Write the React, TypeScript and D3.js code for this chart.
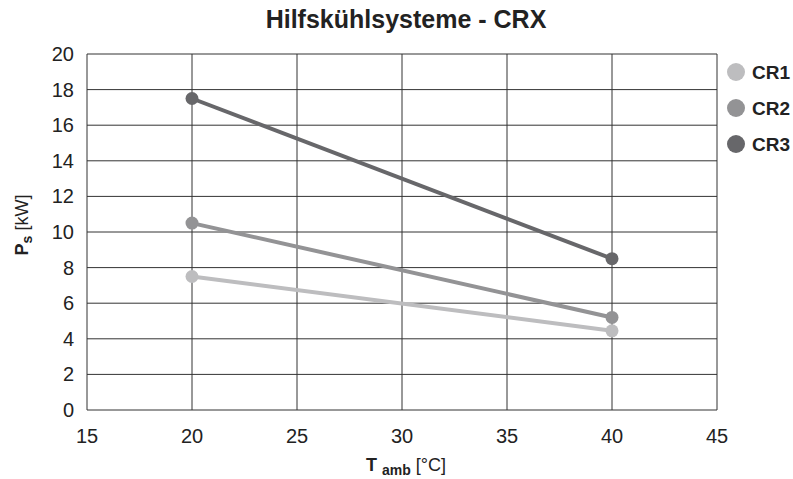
import * as d3 from 'd3';

const temps = [20, 40];
const seriesNames = ['CR1', 'CR2', 'CR3'];
const cr1 = [7.5, 4.45];
const cr2 = [10.5, 5.2];
const cr3 = [17.5, 8.5];
const seriesColors = ['#bdbdbf', '#939395', '#67676a'];
const xTicks = [15, 20, 25, 30, 35, 40, 45];
const yTicks = [0, 2, 4, 6, 8, 10, 12, 14, 16, 18, 20];

const W = 793;
const H = 479;
const font = 'Liberation Sans, Arial, sans-serif';

export default function App() {
  const x = d3.scaleLinear().domain([15, 45]).range([87, 717]);
  const y = d3.scaleLinear().domain([0, 20]).range([410, 54]);
  const all = [cr1, cr2, cr3];
  const line = d3.line<number>()
    .x((_, i) => x(temps[i]))
    .y(d => y(d));

  return (
    <svg width={W} height={H} style={{ position: 'absolute', left: 0, top: 0, fontFamily: font }}>
      <rect width={W} height={H} fill="#fff" />
      <text x={406} y={28} textAnchor="middle" fontSize={25} fontWeight="bold" fill="#222">
        Hilfskühlsysteme - CRX
      </text>
      {/* grid */}
      {yTicks.map(t => (
        <line key={'gy' + t} x1={x(15)} x2={x(45)} y1={y(t)} y2={y(t)} stroke="#333" strokeWidth={1} />
      ))}
      {xTicks.map(t => (
        <line key={'gx' + t} x1={x(t)} x2={x(t)} y1={y(0)} y2={y(20)} stroke="#333" strokeWidth={1} />
      ))}
      {yTicks.map(t => (
        <text key={'ty' + t} x={74} y={y(t) + 7} textAnchor="end" fontSize={20} fill="#222">{t}</text>
      ))}
      {xTicks.map(t => (
        <text key={'tx' + t} x={x(t)} y={443} textAnchor="middle" fontSize={20} fill="#222">{t}</text>
      ))}
      {/* series */}
      {all.map((vals, i) => (
        <g key={seriesNames[i]}>
          <path d={line(vals) || ''} fill="none" stroke={seriesColors[i]} strokeWidth={4} />
          {vals.map((v, j) => (
            <circle key={j} cx={x(temps[j])} cy={y(v)} r={6.5} fill={seriesColors[i]} />
          ))}
        </g>
      ))}
      {/* legend */}
      {seriesNames.map((n, i) => (
        <g key={'lg' + n} transform={`translate(736, ${72 + i * 36})`}>
          <circle r={9} fill={seriesColors[i]} />
          <text x={16} y={7} fontSize={19} fontWeight="bold" fill="#222">{n}</text>
        </g>
      ))}
      {/* axis titles */}
      <text x={406} y={471} textAnchor="middle" fontSize={18} fill="#222">
        <tspan fontWeight="bold">T</tspan>
        <tspan fontWeight="bold" fontSize={14} dx={5} dy={4}>amb</tspan>
        <tspan dx={5} dy={-4}>[°C]</tspan>
      </text>
      <text transform="translate(28, 225) rotate(-90)" textAnchor="middle" fontSize={18} fill="#222">
        <tspan fontWeight="bold">P</tspan>
        <tspan fontWeight="bold" fontSize={14} dy={4}>s</tspan>
        <tspan dx={5} dy={-4}>[kW]</tspan>
      </text>
    </svg>
  );
}
